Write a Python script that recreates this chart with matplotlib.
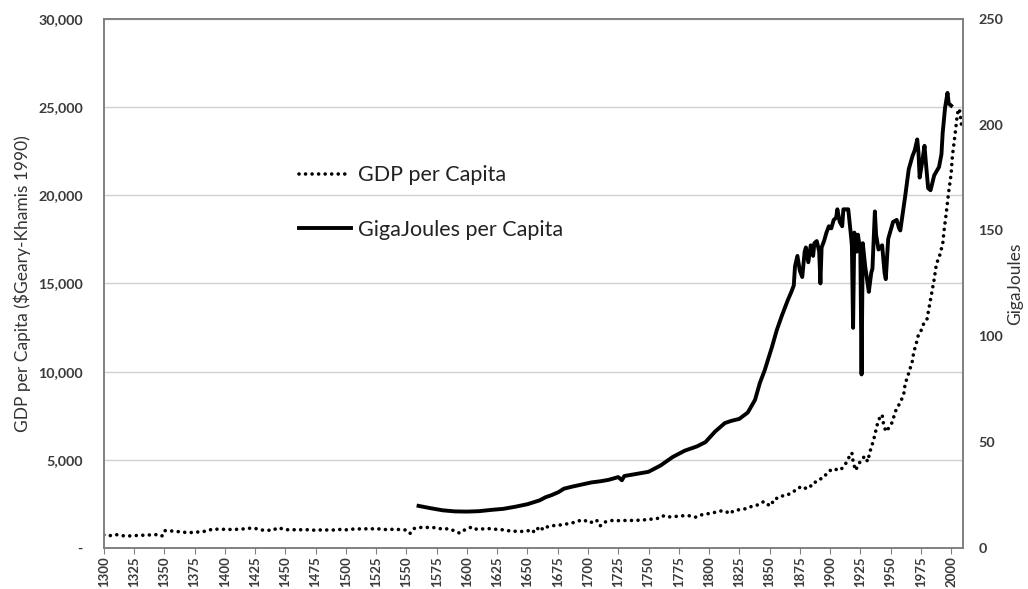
import matplotlib
matplotlib.use("Agg")
import matplotlib.pyplot as plt
from matplotlib.ticker import FuncFormatter, FixedLocator
from matplotlib.lines import Line2D

plt.rcParams['font.family'] = ['Lato', 'DejaVu Sans']

# ---- data ----
gdp_years = [1300, 1305, 1310, 1315, 1320, 1325, 1330, 1335, 1340, 1345, 1348, 1350, 1355, 1360, 1365,
             1370, 1375, 1380, 1385, 1390, 1395, 1400, 1405, 1410, 1415, 1420, 1425, 1430, 1435, 1440,
             1443, 1445, 1450, 1455, 1460, 1465, 1470, 1475, 1480, 1485, 1490, 1495, 1500, 1505, 1510,
             1515, 1520, 1525, 1530, 1535, 1540, 1545, 1550, 1553, 1556, 1560, 1565, 1570, 1575, 1580,
             1585, 1590, 1594, 1597, 1600, 1604, 1608, 1612, 1616, 1620, 1625, 1630, 1635, 1640, 1645,
             1650, 1653, 1656, 1660, 1663, 1666, 1670, 1675, 1680, 1685, 1690, 1693, 1697, 1700, 1704,
             1707, 1710, 1713, 1716, 1720, 1725, 1730, 1735, 1740, 1745, 1750, 1755, 1760, 1762, 1765,
             1770, 1775, 1780, 1785, 1789, 1793, 1798, 1803, 1807, 1810, 1814, 1817, 1820, 1824, 1828,
             1832, 1836, 1840, 1844, 1846, 1849, 1851, 1854, 1858, 1862, 1866, 1870, 1873, 1876, 1879,
             1882, 1885, 1888, 1891, 1894, 1897, 1900, 1903, 1906, 1909, 1912, 1914, 1916, 1918, 1919,
             1921, 1924, 1927, 1929, 1931, 1933, 1936, 1939, 1941, 1943, 1944, 1946, 1948, 1951, 1955,
             1958, 1961, 1962, 1965, 1968, 1969, 1972, 1973, 1975, 1977, 1980, 1983, 1986, 1988, 1990,
             1991, 1993, 1994, 1996, 1998, 2000, 2001, 2003, 2005, 2006, 2007, 2008, 2009]
gdp_values = [740, 700, 760, 700, 680, 700, 720, 730, 750, 760, 680, 985, 970, 940, 900,
              870, 890, 920, 960, 1080, 1060, 1060, 1050, 1060, 1080, 1120, 1110, 1020, 1010, 1000,
              1140, 1130, 1040, 1030, 1040, 1030, 1040, 1000, 1030, 1020, 1020, 1050, 1030, 1070, 1080,
              1090, 1080, 1100, 1060, 1040, 1070, 1040, 1020, 830, 1100, 1160, 1170, 1160, 1150, 1060,
              1100, 960, 840, 1000, 1060, 1200, 1060, 1080, 1090, 1100, 1050, 1030, 970, 950, 940,
              960, 1060, 880, 1230, 1030, 1190, 1260, 1290, 1330, 1400, 1470, 1550, 1590, 1440, 1470,
              1590, 1250, 1460, 1500, 1560, 1550, 1560, 1560, 1570, 1580, 1630, 1640, 1720, 1820, 1750,
              1780, 1800, 1840, 1820, 1750, 1870, 1930, 1990, 2060, 2100, 2080, 1930, 2100, 2160, 2200,
              2250, 2390, 2440, 2600, 2630, 2450, 2390, 2800, 2830, 3010, 3050, 3200, 3400, 3450, 3350,
              3550, 3500, 3750, 3900, 3950, 4200, 4400, 4350, 4500, 4450, 4700, 4900, 5200, 5400, 4900,
              4400, 4800, 5100, 5200, 4900, 5470, 6140, 7000, 7400, 7560, 7090, 6600, 6760, 7090, 7940,
              8220, 8790, 9300, 9920, 10600, 11060, 11800, 12100, 12300, 12670, 12950, 14090, 15230, 16180, 16400,
              16740, 17200, 17900, 19000, 20200, 21200, 22200, 23300, 24500, 24900, 24800, 24300, 23700]

gj_years = [1560, 1570, 1580, 1590, 1600, 1610, 1620, 1630, 1640, 1650, 1660, 1665, 1670, 1676, 1680,
            1687, 1695, 1703, 1710, 1717, 1725, 1728, 1730, 1740, 1750, 1760, 1770, 1780, 1790, 1797,
            1805, 1813, 1818, 1825, 1832, 1838, 1842, 1846, 1852, 1856, 1860, 1865, 1868, 1870, 1871,
            1873, 1875, 1877, 1879, 1880, 1882, 1884, 1886, 1887, 1889, 1891, 1892, 1893, 1895, 1897,
            1899, 1901, 1903, 1905, 1906, 1908, 1910, 1911, 1913, 1915, 1917, 1918, 1919, 1920, 1921,
            1922, 1923, 1925, 1926, 1927, 1929, 1931, 1932, 1934, 1935, 1937, 1938, 1940, 1943, 1945,
            1946, 1948, 1950, 1952, 1955, 1957, 1958, 1960, 1962, 1965, 1968, 1970, 1972, 1973, 1974,
            1976, 1978, 1979, 1981, 1983, 1986, 1990, 1992, 1993, 1995, 1997, 1998, 2000]
gj_values = [19.9, 18.8, 17.8, 17.3, 17.2, 17.4, 18.0, 18.5, 19.5, 20.7, 22.5, 24.0, 25.0, 26.5, 28.0,
             29.0, 30.0, 31.0, 31.5, 32.2, 33.5, 32.0, 34.0, 35.0, 36.0, 39.0, 43.0, 46.0, 48.0, 50.0,
             55.0, 59.0, 60.0, 61.0, 64.0, 70.0, 78.0, 84.0, 95.0, 103.0, 109.5, 117.0, 121.0, 124.0, 133.0,
             138.0, 131.0, 128.0, 140.0, 142.0, 135.0, 143.0, 138.0, 144.0, 145.0, 140.0, 125.0, 142.0, 145.0, 149.0,
             152.0, 151.0, 155.0, 156.0, 160.0, 154.0, 152.0, 160.0, 160.0, 160.0, 149.0, 143.0, 104.0, 149.0, 147.0,
             140.0, 148.0, 140.0, 82.0, 144.0, 133.0, 125.0, 121.0, 130.0, 132.0, 159.0, 148.0, 141.0, 143.0, 130.0,
             127.0, 146.0, 150.0, 154.0, 155.0, 151.0, 150.0, 158.0, 166.0, 179.0, 185.0, 188.0, 193.0, 187.0, 175.0,
             182.0, 190.0, 183.0, 170.0, 169.0, 176.0, 180.0, 186.0, 196.0, 208.0, 215.0, 210.0, 209.0]

x_ticks = list(range(1300, 2001, 25))
gdp_ticks = [0, 5000, 10000, 15000, 20000, 25000, 30000]
gj_ticks = [0, 50, 100, 150, 200, 250]

# ---- figure ----
fig = plt.figure(figsize=(10.28, 5.89), dpi=100)
ax = fig.add_axes([0.101, 0.0696, 0.836, 0.8985])
ax2 = ax.twinx()

tick_col = '#3a3a3a'
dot_style = (0, (0.01, 1.8))
ax.plot(gdp_years, gdp_values, color='black', lw=2.6,
        linestyle=dot_style, dash_capstyle='round')
ax2.plot(gj_years, gj_values, color='black', lw=2.8, solid_joinstyle='round')

ax.set_xlim(1300, 2010)
ax.set_ylim(0, 30000)
ax2.set_ylim(0, 250)

ax.xaxis.set_major_locator(FixedLocator(x_ticks))
ax.set_xticklabels([str(t) for t in x_ticks], rotation=90, fontsize=9.5, fontweight='bold', color=tick_col)
ax.tick_params(axis='x', length=4, color='#808080', pad=2)

ax.yaxis.set_major_locator(FixedLocator(gdp_ticks))
ax.yaxis.set_major_formatter(FuncFormatter(lambda v, p: '-' if v == 0 else f'{int(v):,}'))
ax.tick_params(axis='y', length=0, pad=15, labelsize=10.3, labelcolor=tick_col)
for lbl in ax.get_yticklabels():
    lbl.set_fontweight('bold')

ax2.yaxis.set_major_locator(FixedLocator(gj_ticks))
ax2.tick_params(axis='y', length=0, pad=11, labelsize=10.3, labelcolor=tick_col)
for lbl in ax2.get_yticklabels():
    lbl.set_fontweight('bold')

ax.grid(axis='y', color='#d0d0d0', lw=1)
ax.set_axisbelow(True)
for a in (ax, ax2):
    for s in a.spines.values():
        s.set_color('#808080')
        s.set_linewidth(1.2)

ax.set_ylabel('GDP per Capita ($Geary-Khamis 1990)', fontsize=12.5, color='#333333', labelpad=5)
ax2.set_ylabel('GigaJoules', fontsize=12.5, color='#333333', labelpad=3)

handles = [Line2D([], [], color='black', lw=2.6, linestyle=dot_style, dash_capstyle='round'),
           Line2D([], [], color='black', lw=2.8)]
ax2.legend(handles, ['GDP per Capita', 'GigaJoules per Capita'], loc='upper left',
           bbox_to_anchor=(0.205, 0.76), frameon=False, fontsize=15.5, labelspacing=1.6,
           handlelength=2.4, handletextpad=0.3, labelcolor='#222222')

fig.savefig('out.png', dpi=100)
